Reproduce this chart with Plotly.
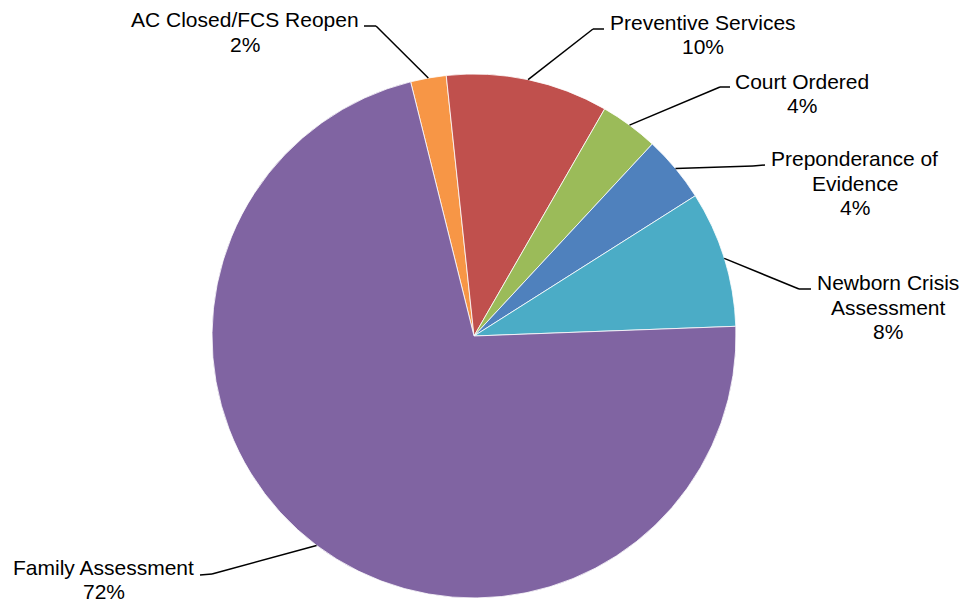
import numpy as np
import plotly.graph_objects as go

labels = ["AC Closed/FCS Reopen", "Preventive Services", "Court Ordered",
          "Preponderance of Evidence", "Newborn Crisis Assessment", "Family Assessment"]
label_lines = [["AC Closed/FCS Reopen"], ["Preventive Services"], ["Court Ordered"],
               ["Preponderance of", "Evidence"], ["Newborn Crisis", "Assessment"], ["Family Assessment"]]
values = [2.2, 10.0, 3.6, 4.1, 8.4, 71.7]
pct_text = ["2%", "10%", "4%", "4%", "8%", "72%"]
colors = ["#F79646", "#C0504D", "#9BBB59", "#4F81BD", "#4BACC6", "#8064A2"]

W, H = 964, 603
cx, cy, R = 474, 336, 262
rotation = -14
LINE_GAP = 24.5

# first-line centers of label blocks and leader elbows (pixels)
label_pos = [(244.5, 20), (702.5, 22.5), (802, 81.5), (854.5, 158.5), (888, 282.5), (103.5, 567.5)]
line_gap = [LINE_GAP, LINE_GAP, LINE_GAP, LINE_GAP, LINE_GAP, 23.5]
elbow = [(376, 26), (593, 29), (720, 87), (753, 166), (799, 289), (212, 574)]
tick_end = [(364, 26), (604, 29), (730, 87), (765, 165), (811, 289), (200, 575)]

def px(x, y):
    return x / W, 1 - y / H

fig = go.Figure(go.Pie(
    labels=labels, values=values, sort=False, direction="clockwise",
    rotation=rotation, textinfo="none", hoverinfo="label+percent",
    marker=dict(colors=colors, line=dict(color="white", width=0.8)),
    domain=dict(x=[(cx - R) / W, (cx + R) / W], y=[1 - (cy + R) / H, 1 - (cy - R) / H]),
    showlegend=False,
))

vals = np.array(values)
cum = np.cumsum(vals)
mid = np.deg2rad(rotation + 360 * (cum - vals / 2) / vals.sum())
edge_x = cx + R * np.sin(mid)
edge_y = cy - R * np.cos(mid)

shapes = []
annotations = []
for i in range(len(labels)):
    ex, ey = edge_x[i], edge_y[i]
    bx, by = elbow[i]
    tx, ty = tick_end[i]
    for (x0, y0, x1, y1) in [(ex, ey, bx, by), (bx, by, tx, ty)]:
        a0 = px(x0, y0)
        a1 = px(x1, y1)
        shapes.append(dict(type="line", xref="paper", yref="paper",
                           x0=a0[0], y0=a0[1], x1=a1[0], y1=a1[1],
                           line=dict(color="black", width=1.5)))
    lines = label_lines[i] + [pct_text[i]]
    x0, y0 = label_pos[i]
    for j, t in enumerate(lines):
        lx, ly = px(x0, y0 + j * line_gap[i])
        annotations.append(dict(xref="paper", yref="paper", x=lx, y=ly, text=t,
                                showarrow=False, xanchor="center", yanchor="middle",
                                align="center",
                                font=dict(family="Liberation Sans, Arial", size=21, color="#000000")))

fig.update_layout(width=W, height=H, margin=dict(l=0, r=0, t=0, b=0),
                  paper_bgcolor="white", plot_bgcolor="white",
                  shapes=shapes, annotations=annotations)
fig.write_html("out.html", config={"displayModeBar": False},
               post_script="document.body.style.margin='0';")
